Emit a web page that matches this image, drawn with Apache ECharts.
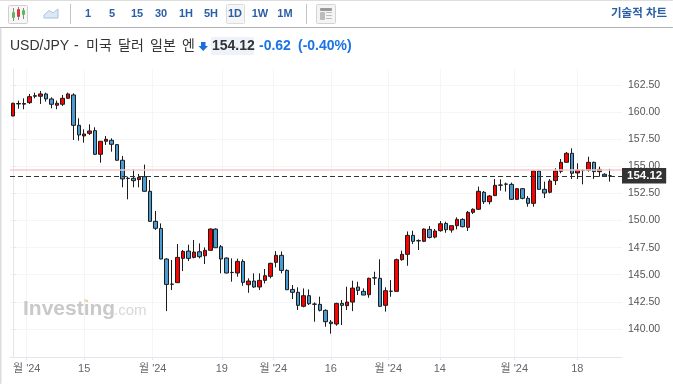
<!DOCTYPE html>
<html>
<head>
<meta charset="utf-8">
<style>
  html, body { margin: 0; padding: 0; background: #fff; }
  #main { width: 673px; height: 384px; }
</style>
<script src="https://cdn.jsdelivr.net/npm/echarts@6/dist/echarts.min.js"></script>
</head>
<body>
<div id="main"></div>
<script>
const opens = [159.63,160.74,160.72,160.86,161.45,161.45,161.66,161.2,160.62,160.71,161.26,161.57,158.77,157.79,158.03,158.28,156.1,157.3,157.39,156.99,155.55,153.89,153.89,153.77,154.04,152.69,149.92,149.27,146.45,144.14,144.27,146.51,147.18,146.6,147.12,146.75,147.25,149.21,147.58,146.54,145.22,145.16,146.23,144.08,144.42,143.87,144.48,144.85,146.14,146.79,145.4,143.65,143.38,142.09,143.07,142.3,142.27,141.72,140.64,140.46,142.36,142.15,142.48,143.87,143.47,143.16,144.7,144.67,142.18,143.47,143.47,146.39,146.88,148.63,148.14,148.08,149.18,148.47,149.06,149.73,149.12,149.52,150.1,149.37,150.75,151.03,152.6,151.73,152.29,153.27,153.36,153.33,151.95,152.93,152.04,151.58,154.56,152.87,152.6,153.67,154.53,155.36,156.19,154.38,154.62,154.62,155.36,154.5,154.26,154.12];
const closes = [160.8,160.78,160.78,161.41,161.5,161.66,161.2,160.71,160.8,161.26,161.66,158.77,157.88,157.97,158.25,156.1,157.3,157.48,157.02,155.55,153.83,153.87,153.67,153.98,152.69,149.92,149.28,146.45,144.11,144.12,146.6,147.15,146.51,147.09,146.66,147.25,149.21,147.49,146.45,145.16,145.2,146.23,144.3,144.42,143.87,144.48,144.91,146.05,146.79,145.4,143.62,143.38,142.18,143.07,142.33,142.28,141.72,140.67,140.49,142.36,142.18,142.48,143.77,143.56,143.13,144.67,144.72,142.09,143.53,143.49,146.39,146.88,148.63,148.08,148.12,149.21,148.44,149.03,149.7,149.15,149.52,150.1,149.43,150.75,151.03,152.69,151.73,152.26,153.24,153.25,153.34,151.95,152.93,152.04,151.58,154.56,152.87,152.53,153.64,154.56,155.36,156.19,154.35,154.65,154.6,155.36,154.5,154.71,154.1,154.12];
const lows = [159.6,160.3,160.25,160.74,161.26,160.74,160.95,160.34,160.25,160.55,161.2,157.42,157.36,157.17,157.88,156.04,155.33,156.96,156.34,155.52,153.06,151.95,153.06,153.06,152.66,149.89,149.13,146.42,141.65,143.59,144.27,145.34,146.26,146.51,146.51,145.99,147.25,147.49,145.13,145.13,144.36,144.82,143.99,143.34,143.8,143.59,144.2,144.67,145.68,145.13,143.59,142.76,141.75,142,142.21,140.67,141.62,140.21,139.57,140.3,140.36,141.75,141.65,143.13,143.13,142.88,144.05,142.06,141.6,142.97,143.44,146.29,145.83,147.83,147.28,148.01,148.35,148.35,148.97,148.87,148.88,149.18,149.37,149.03,150.6,150.97,151.52,151.49,152.26,152.75,152.66,151.89,151.89,151.95,151.27,151.27,152.81,152.07,152.5,153.27,154.35,155.33,153.82,153.82,153.33,154.5,153.82,154.04,154.04,153.58];
const highs = [160.85,161.05,161.26,161.66,161.78,161.94,161.78,161.35,161.05,161.57,161.78,161.72,159.42,158.4,158.86,158.59,157.3,157.79,157.57,157.05,155.95,154.04,154.72,154.29,155.15,153.73,150.88,149.73,146.51,146.36,147.83,147.28,147.77,148.2,147.89,147.52,149.27,149.27,147.74,146.6,146.51,146.48,146.42,144.67,145.13,145.13,145.53,146.11,147.18,147.15,145.5,144.05,143.84,143.74,143.65,142.45,142.98,141.81,140.83,142.42,142.67,143.9,144.45,144.36,143.74,144.73,145.28,146.42,143.84,144.51,146.48,147.22,148.99,149.06,148.26,149.27,149.49,149.21,149.95,149.89,149.52,150.29,150.2,150.87,151.12,153.12,152.72,152.35,153.82,153.79,153.49,153.49,152.99,152.99,152.26,154.62,154.62,153.58,153.82,154.81,155.67,156.31,156.65,155.27,154.71,155.88,155.42,154.96,154.35,154.75];

const priceTicks = [140, 142.5, 145, 147.5, 150, 152.5, 155, 157.5, 160, 162.5];
const dateTicks = [2.5, 13, 25.5, 38.1, 47.5, 58, 68.5, 77.9, 91.5, 103];
const dateLabels = ["월 '24", '15', "월 '24", '19', "월 '24", '16', "월 '24", '14', "월 '24", '18'];
const intervals = ['1', '5', '15', '30', '1H', '5H', '1D', '1W', '1M'];
const intervalX = [88, 112, 137, 161, 186, 211, 235, 260, 285];

const lastPrice = 154.12;
const prevClose = 154.7;

const font = '"Liberation Sans","Noto Sans CJK KR",sans-serif';
const toolBlue = '#2a5fa5';
const gridColor = '#f4f5f9';
const axisColor = '#e3e6ee';

const candles = opens.map((o, i) => [i, o, closes[i], lows[i], highs[i]]);

function line(x1, y1, x2, y2, stroke, width) {
	return { type: 'line', silent: true, shape: { x1, y1, x2, y2 }, style: { stroke, lineWidth: width || 1 } };
}
function box(x, y, width, height, fill, stroke) {
	return { type: 'rect', silent: true, shape: { x, y, width, height, r: 1 }, style: { fill, stroke: stroke || null } };
}
function label(x, y, text, fontSize, fill, weight, align) {
	return {
		type: 'text', silent: true, x, y,
		style: { text, fill, align: align || 'left', verticalAlign: 'middle', font: `${weight || 'normal'} ${fontSize}px ${font}` }
	};
}

// toolbar and header are just page furniture around the chart
const chrome = [
	box(0, 0, 673, 1, '#dddddd'),
	box(0, 27, 673, 1, '#b0b0b0'),
	box(0, 28, 1.5, 356, '#dcdcdc'),
	box(8.5, 5.5, 19, 18, '#f6f6f6', '#d0d0d0'),
	line(13.5, 8, 13.5, 21, '#888'), box(12, 12, 3, 6, '#5cb85c'),
	line(18.5, 7, 18.5, 20, '#888'), box(17, 9, 3, 8, '#d9363e'),
	line(23.5, 8, 23.5, 19, '#888'), box(22, 10, 3, 5, '#5cb85c'),
	{ type: 'polygon', silent: true, shape: { points: [[44, 15], [49, 10.5], [53, 13], [58, 9], [58, 18], [44, 18]] }, style: { fill: '#dde8f5', stroke: '#a9c2e0' } },
	line(70.5, 4, 70.5, 24, '#c4c4c4'),
	box(226.5, 4.5, 18, 19, '#f6f6f6', '#dcdcdc'),
	line(306.5, 4, 306.5, 24, '#c4c4c4'),
	box(316.5, 4.5, 19, 19, '#f4f4f4', '#d4d4d4'),
	box(320, 8, 12, 3, '#9a9a9a'),
	box(320, 12, 5, 8, '#bcbcbc'),
	box(326, 12, 6, 1, '#bcbcbc'), box(326, 15, 6, 1, '#bcbcbc'), box(326, 18, 6, 1, '#bcbcbc'),
	label(611, 14, '기술적 차트  »', 11.5, toolBlue, 'bold'),
	label(10, 46, 'USD/JPY', 14, '#333333'),
	label(74, 46, '-', 14, '#333333'),
	label(86, 46, '미국', 14, '#333333'),
	label(118, 46, '달러', 14, '#333333'),
	label(150, 46, '일본', 14, '#333333'),
	label(182, 46, '엔', 14, '#333333'),
	{ type: 'polygon', silent: true, shape: { points: [[201, 42], [205.5, 42], [205.5, 46], [208, 46], [203.2, 51], [198.5, 46], [201, 46]] }, style: { fill: '#1a6fd8' } },
	box(211, 37, 43, 18, '#eef3fb'),
	label(212, 46, '154.12', 14, '#333333', 'bold'),
	label(259, 46, '-0.62', 14, '#1a73e8', 'bold'),
	label(298, 46, '(-0.40%)', 14, '#1a73e8', 'bold'),
	Object.assign(label(23, 309, 'Investing', 21, '#c9c9c9', 'bold'), { z: 1 }),
	Object.assign(label(114, 311, '.com', 15, '#d8d8d8'), { z: 1 }),
	Object.assign(box(84, 299, 3, 3, '#f6dcae'), { z: 1 })
].concat(intervals.map((t, i) => label(intervalX[i], 14, t, 11, toolBlue, 'bold', 'center')));

const myChart = echarts.init(document.getElementById('main'));
myChart.setOption({
	animation: false,
	textStyle: { fontFamily: font },
	graphic: chrome,
	grid: { left: 10, right: 51, top: 69, bottom: 27 },
	xAxis: {
		type: 'value',
		min: -0.55,
		max: 111.15,
		axisLine: { onZero: false, lineStyle: { color: axisColor } },
		axisTick: { customValues: dateTicks, length: 3, lineStyle: { color: axisColor } },
		splitLine: { show: true, lineStyle: { color: gridColor } },
		axisLabel: {
			customValues: dateTicks,
			formatter: v => dateLabels[dateTicks.indexOf(v)],
			color: '#666',
			fontSize: 11,
			margin: 6
		}
	},
	yAxis: {
		type: 'value',
		position: 'right',
		scale: true,
		min: 137.42,
		max: 163.96,
		axisLine: { show: true, lineStyle: { color: axisColor } },
		axisTick: { show: true, customValues: priceTicks, length: 3, lineStyle: { color: axisColor } },
		splitLine: { show: true, lineStyle: { color: gridColor } },
		axisLabel: {
			customValues: priceTicks,
			formatter: v => v.toFixed(2),
			color: '#555',
			fontSize: 10.5,
			margin: 6,
			padding: [2, 0, 0, 0]
		}
	},
	series: [{
		type: 'candlestick',
		data: candles,
		barWidth: 4,
		itemStyle: {
			color: '#ff0000',
			color0: '#4a9bd4',
			borderColor: '#1c1c1c',
			borderColor0: '#1c1c1c',
			borderWidth: 1
		},
		markLine: {
			silent: true,
			symbol: 'none',
			animation: false,
			data: [
				{
					yAxis: prevClose,
					lineStyle: { color: '#f8c8c8', type: 'solid', width: 1.5 },
					label: { show: false }
				},
				{
					yAxis: lastPrice,
					lineStyle: { color: '#333', type: [5, 3], width: 1 },
					label: {
						show: true,
						position: 'end',
						distance: 0,
						formatter: lastPrice.toFixed(2),
						color: '#fff',
						fontWeight: 'bold',
						fontSize: 11.5,
						backgroundColor: '#333',
						padding: [2, 4, 2, 5]
					}
				}
			]
		}
	}]
});
</script>
</body>
</html>
